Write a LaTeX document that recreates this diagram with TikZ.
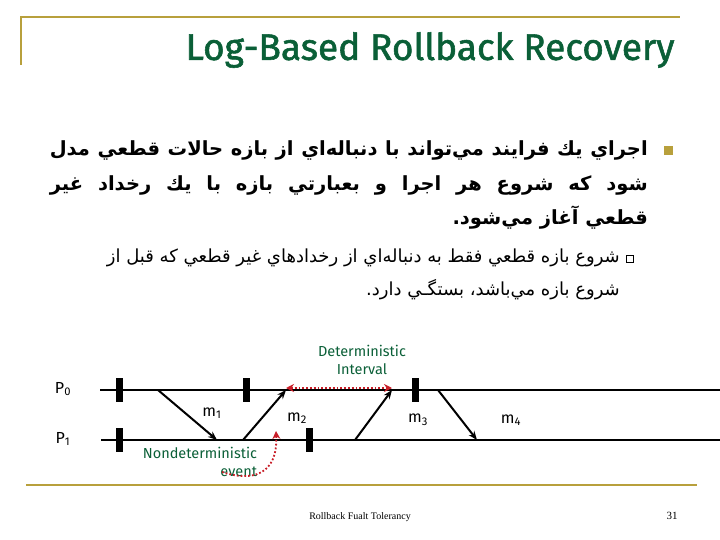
\documentclass[tikz,border=0pt]{standalone}
\usepackage{fontspec}
\setmainfont{Liberation Serif}
\newfontfamily\ar[Script=Arabic]{DejaVu Sans}
\newfontfamily\cm{Fira Sans}
\TeXXeTstate=1
\usetikzlibrary{arrows.meta}
\definecolor{gold}{RGB}{184,160,60}
\definecolor{dgreen}{RGB}{10,95,55}
\definecolor{dred}{RGB}{200,30,40}
\tikzset{
  gl/.style={gold,line width=2pt},
  proc/.style={line width=1.5pt,black},
  msg/.style={line width=2pt,-{Stealth[length=9pt,width=7pt]}},
  lbl/.style={font=\cm\fontsize{16}{18}\selectfont,inner sep=0},
  gt/.style={font=\cm\fontsize{14.5}{18}\selectfont,text=dgreen,inner sep=0,align=center},
  rd/.style={dred,line width=1.8pt,dotted},
  fa/.style={font=\ar\bfseries\fontsize{19.5}{22}\selectfont,inner sep=0,anchor=east},
  fs/.style={font=\ar\fontsize{18}{21}\selectfont,inner sep=0,anchor=east}
}
\begin{document}
\begin{tikzpicture}[x=1pt,y=-1pt]
\useasboundingbox (0,0) rectangle (720,540);
\draw[gl] (21,65) -- (21,17) coordinate (tl) -- (680,17) coordinate (tr);
\node[font=\cm\fontsize{37}{40}\selectfont,text=dgreen,anchor=east] (title) at (678,50) {\addfontfeatures{FakeBold=1.5}Log-Based Rollback Recovery};
\node[fill=gold,minimum size=9pt,inner sep=0] (b1) at (668,151) {};
\node[fa] (l1) at (648,150) {\hbox to 598pt{\beginR اجراي يك فرايند مي‌تواند با دنباله‌اي از بازه حالات قطعي مدل\endR}};
\node[fa] (l2) at (648,185) {\hbox to 598pt{\beginR شود كه شروع هر اجرا و بعبارتي بازه با يك رخداد غير\endR}};
\node[fa] (l3) at (648,218) {\beginR قطعي آغاز مي‌شود.\endR};
\node[draw=black,line width=0.5pt,minimum size=7pt,inner sep=0] (b2) at (630,259) {};
\node[fs] (s1) at (620,258) {\beginR شروع بازه قطعي فقط به دنباله‌اي از رخدادهاي غير قطعي كه قبل از\endR};
\node[fs] (s2) at (620,290) {\beginR شروع بازه مي‌باشد، بستگـي دارد.\endR};
% processes
\coordinate (p0s) at (100,390); \coordinate (p0e) at (720,390);
\coordinate (p1s) at (101,440); \coordinate (p1e) at (720,440);
\draw[proc] (p0s) -- (p0e);
\draw[proc] (p1s) -- (p1e);
\node[lbl] (P0) at (63,389) {P\textsubscript{0}};
\node[lbl] (P1) at (63,439) {P\textsubscript{1}};
\foreach \x in {119,246,415}{\fill (\x-3.5,378) rectangle (\x+3.5,402);}
\foreach \x in {119,309}{\fill (\x-3.5,428) rectangle (\x+3.5,452);}
\coordinate (m1s) at (158,390); \coordinate (m1e) at (217,440);
\coordinate (m2s) at (243,440); \coordinate (m2e) at (286,390);
\coordinate (m3s) at (355,440); \coordinate (m3e) at (392,390);
\coordinate (m4s) at (438,390); \coordinate (m4e) at (477,440);
\draw[msg] (m1s) -- (m1e);
\draw[msg] (m2s) -- (m2e);
\draw[msg] (m3s) -- (m3e);
\draw[msg] (m4s) -- (m4e);
\node[lbl] (m1) at (212,413) {m\textsubscript{1}};
\node[lbl] (m2) at (297,418) {m\textsubscript{2}};
\node[lbl] (m3) at (418,420) {m\textsubscript{3}};
\node[lbl] (m4) at (511,420) {m\textsubscript{4}};
\node[gt] (det) at (362,360) {Deterministic\\Interval};
\coordinate (dl) at (286,388); \coordinate (dr) at (392,388);
\draw[rd,{Stealth[length=8pt,width=8pt]}-{Stealth[length=8pt,width=8pt]}] (dl) -- (dr);
\node[gt,align=right] (nd) at (200,462) {Nondeterministic\\event};
\coordinate (ndend) at (222,472);
\coordinate (tgt) at (276,431);
\draw[rd,-{Stealth[length=8pt,width=8pt]}] (ndend) .. controls (252,482) and (278,475) .. (tgt);
\draw[gl] (26,485) coordinate (bl) -- (697,485) coordinate (br);
\node[font=\fontsize{10}{12}\selectfont] (foot) at (360,517) {Rollback Fualt Tolerancy};
\node[font=\fontsize{11}{12}\selectfont] (pg) at (672,516) {31};
\end{tikzpicture}
\end{document}
